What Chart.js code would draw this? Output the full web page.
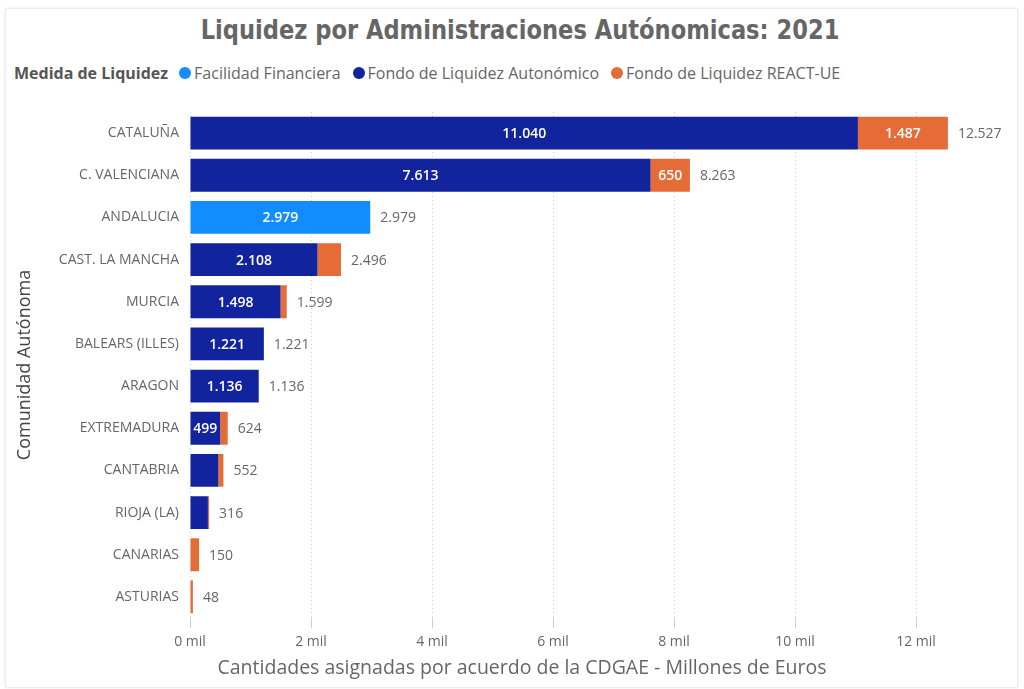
<!DOCTYPE html>
<html><head><meta charset="utf-8">
<script src="https://cdn.jsdelivr.net/npm/chart.js@4"></script>
<style>
html,body{margin:0;padding:0;background:#fff;width:1024px;height:689px;overflow:hidden;font-family:'Open Sans',sans-serif;}
#card{position:absolute;left:5px;top:8px;width:1011px;height:678px;border:1px solid #ececec;box-shadow:0 0 4px rgba(0,0,0,0.07);}
#title{position:absolute;left:0;width:1040px;top:12px;text-align:center;font-family:'Liberation Sans Narrow','DejaVu Sans Condensed','Roboto',sans-serif;font-weight:bold;font-size:27px;line-height:36px;color:#666;transform:scaleX(0.93);transform-origin:520px 0;}
#legend{position:absolute;left:14px;top:62px;height:21px;display:flex;align-items:center;font-size:16px;color:#666;white-space:nowrap;}
#legend b{color:#555;margin-right:11px;}
#legend .dot{display:inline-block;width:12px;height:12px;border-radius:50%;margin-right:3px;}
#legend .it{display:flex;align-items:center;margin-right:12px;}
#xtitle{position:absolute;left:0;width:1044px;top:654px;text-align:center;font-size:19.5px;line-height:26px;color:#666;}
canvas{position:absolute;left:0;top:0;}
</style>
</head><body>
<div id="card"></div>
<div id="title">Liquidez por Administraciones Autónomicas: 2021</div>
<div id="legend"><b>Medida de Liquidez</b></div>
<canvas id="c" width="1024" height="689"></canvas>
<div id="xtitle">Cantidades asignadas por acuerdo de la CDGAE - Millones de Euros</div>
<script>
const categories = ['CATALUÑA','C. VALENCIANA','ANDALUCIA','CAST. LA MANCHA','MURCIA','BALEARS (ILLES)','ARAGON','EXTREMADURA','CANTABRIA','RIOJA (LA)','CANARIAS','ASTURIAS'];
const facilidadFinanciera = [null,null,2979,null,null,null,null,null,null,null,null,null];
const fondoLiquidezAutonomico = [11040,7613,null,2108,1498,1221,1136,499,468,296,null,null];
const fondoLiquidezReact = [1487,650,null,388,101,null,null,125,84,20,150,48];
const seriesNames = ['Facilidad Financiera','Fondo de Liquidez Autonómico','Fondo de Liquidez REACT-UE'];
const seriesColors = ['#118DFF','#12239E','#E66C37'];
const xTickValues = [0,2000,4000,6000,8000,10000,12000];

const lg = document.getElementById('legend');
seriesNames.forEach((n,i)=>{
  const s=document.createElement('span');s.className='it';
  s.innerHTML='<span class="dot" style="background:'+seriesColors[i]+'"></span>'+n;
  lg.appendChild(s);
});

function fmt(v){return String(v).replace(/\B(?=(\d{3})+(?!\d))/g,'.');}

const labelPlugin={id:'lbl',afterDatasetsDraw(chart){
  const ctx=chart.ctx;ctx.save();ctx.textBaseline='middle';
  chart.data.datasets.forEach((ds,di)=>{
    const meta=chart.getDatasetMeta(di);
    meta.data.forEach((bar,i)=>{
      const v=ds.data[i]; if(v==null) return;
      ctx.font='600 14px "Open Sans"';
      const t=fmt(v);const w=ctx.measureText(t).width;
      const bw=Math.abs(bar.x-bar.base);
      if(bw>=w+4.5){ctx.fillStyle='#fff';ctx.textAlign='center';ctx.fillText(t,(bar.x+bar.base)/2,bar.y+1);}
    });
  });
  const xs=chart.scales.x, ys=chart.scales.y;
  ctx.font='14px "Open Sans"';ctx.fillStyle='#666';ctx.textAlign='left';
  chart.data.labels.forEach((l,i)=>{
    let tot=0;chart.data.datasets.forEach(ds=>{tot+=ds.data[i]||0;});
    ctx.fillText(fmt(tot),xs.getPixelForValue(tot)+10,ys.getPixelForValue(i)+1);
  });
  ctx.restore();
}};

new Chart(document.getElementById('c'),{
  type:'bar',
  data:{labels:categories,datasets:[
    {label:seriesNames[0],data:facilidadFinanciera,backgroundColor:seriesColors[0]},
    {label:seriesNames[1],data:fondoLiquidezAutonomico,backgroundColor:seriesColors[1]},
    {label:seriesNames[2],data:fondoLiquidezReact,backgroundColor:seriesColors[2]}
  ]},
  options:{
    indexAxis:'y',animation:false,responsive:false,
    datasets:{bar:{categoryPercentage:1,barPercentage:0.78}},
    layout:{padding:{top:112,right:47.5,left:0,bottom:0}},
    plugins:{legend:{display:false},title:{display:false},tooltip:{enabled:false}},
    scales:{
      x:{stacked:true,min:0,max:13000,
        ticks:{stepSize:2000,callback:v=>(v/1000)+' mil',color:'#666',font:{family:'Open Sans',size:14},padding:6,maxRotation:0},
        grid:{color:'#cfcfcf',tickLength:10,drawTicks:true},
        border:{display:false,dash:[1,3]},
        afterBuildTicks:s=>{s.ticks=xTickValues.map(v=>({value:v}));},
        afterFit:s=>{s.height=71;}
      },
      y:{stacked:true,
        ticks:{color:'#666',font:{family:'Open Sans',size:14},padding:3},
        grid:{display:false},border:{display:false},
        title:{display:true,text:'Comunidad Autónoma',color:'#444',font:{family:'Open Sans',size:18},padding:{top:14,bottom:0}},
        afterFit:s=>{s.width=190;}
      }
    }
  },
  plugins:[labelPlugin]
});
</script>
</body></html>
